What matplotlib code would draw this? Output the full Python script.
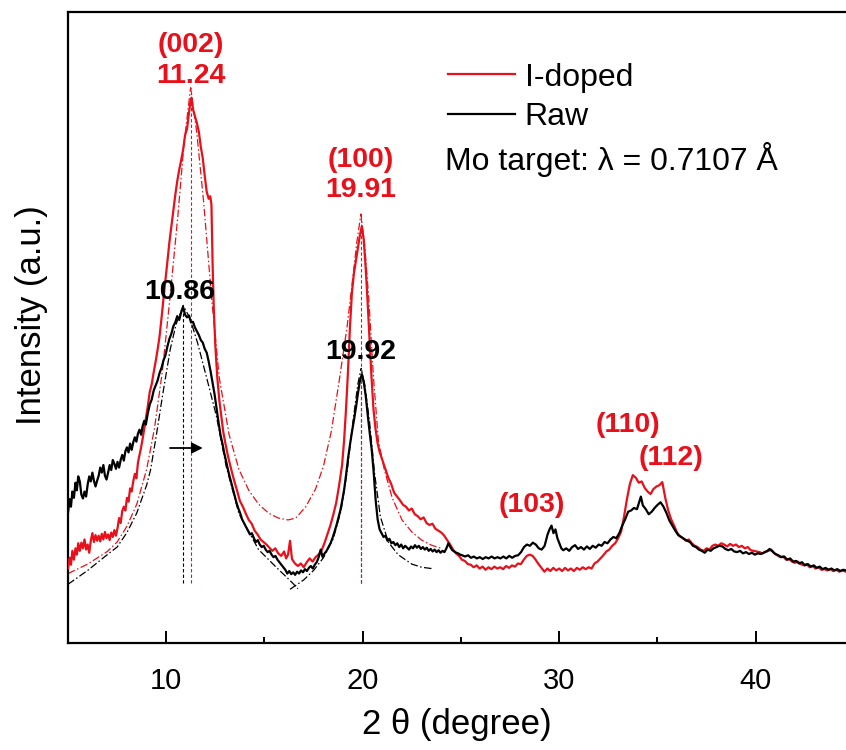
import numpy as np
import matplotlib
matplotlib.use('Agg')
import matplotlib.pyplot as plt

plt.rcParams['font.family'] = ['Liberation Sans', 'DejaVu Sans']

RED = '#e8101a'

# XRD scans, (2theta [deg], intensity [a.u.])
doped_scan = [
    (5.00, 11.8), (5.08, 13.5), (5.15, 12.4), (5.22, 14.6), (5.30, 13.2), (5.38, 15.0),
    (5.45, 14.0), (5.52, 15.8), (5.60, 14.6), (5.68, 15.9), (5.76, 15.0), (5.84, 16.4),
    (5.92, 14.8), (6.00, 15.6), (6.08, 14.3), (6.16, 16.2), (6.24, 17.4), (6.32, 16.0),
    (6.40, 17.1), (6.48, 16.2), (6.56, 17.0), (6.64, 16.1), (6.72, 17.3), (6.80, 16.4),
    (6.88, 17.6), (6.96, 16.6), (7.04, 17.2), (7.12, 16.3), (7.20, 17.5), (7.28, 16.8),
    (7.36, 17.9), (7.44, 17.0), (7.52, 18.2), (7.60, 19.8), (7.68, 19.0), (7.76, 20.9),
    (7.84, 21.6), (7.92, 21.0), (8.00, 23.0), (8.08, 22.4), (8.16, 24.5), (8.24, 24.0),
    (8.32, 25.6), (8.40, 26.8), (8.48, 26.1), (8.56, 28.6), (8.64, 29.8), (8.72, 31.0),
    (8.80, 32.4), (8.88, 34.0), (8.96, 35.5), (9.06, 37.5), (9.16, 39.8), (9.26, 41.0),
    (9.36, 42.9), (9.46, 44.6), (9.56, 46.5), (9.66, 48.6), (9.76, 51.5), (9.86, 54.6),
    (9.96, 57.5), (10.06, 60.5), (10.16, 63.5), (10.26, 66.0), (10.36, 68.6), (10.46, 71.0),
    (10.56, 73.2), (10.66, 75.0), (10.76, 76.5), (10.86, 78.2), (10.96, 80.5), (11.06, 81.5),
    (11.14, 83.6), (11.22, 85.5), (11.28, 86.4), (11.36, 84.6), (11.46, 83.5), (11.56, 82.4),
    (11.66, 81.0), (11.76, 78.6), (11.86, 76.8), (11.96, 74.0), (12.06, 71.5), (12.16, 70.4),
    (12.24, 70.8), (12.30, 69.5), (12.36, 60.0), (12.42, 53.0), (12.50, 47.0), (12.60, 42.0),
    (12.70, 38.5), (12.80, 36.0), (12.90, 33.5), (13.00, 31.8), (13.15, 29.5), (13.30, 27.6),
    (13.45, 25.8), (13.60, 24.2), (13.75, 22.5), (13.90, 21.6), (14.05, 20.5), (14.20, 19.5),
    (14.35, 18.9), (14.50, 17.8), (14.65, 17.2), (14.80, 16.4), (14.95, 16.0), (15.10, 15.6),
    (15.25, 15.1), (15.40, 14.6), (15.55, 15.0), (15.70, 14.2), (15.85, 13.8), (16.00, 14.5),
    (16.10, 13.4), (16.20, 14.0), (16.30, 16.2), (16.40, 13.3), (16.55, 12.6), (16.70, 12.2),
    (16.85, 12.6), (17.00, 12.0), (17.15, 12.8), (17.30, 13.4), (17.45, 12.9), (17.60, 13.6),
    (17.75, 14.0), (17.90, 14.6), (18.05, 15.8), (18.20, 17.2), (18.35, 18.6), (18.50, 20.3),
    (18.65, 22.2), (18.80, 25.0), (18.95, 28.2), (19.05, 32.0), (19.15, 37.0), (19.25, 43.0),
    (19.35, 50.0), (19.45, 55.5), (19.55, 58.5), (19.65, 60.5), (19.75, 62.5), (19.85, 64.5),
    (19.95, 66.0), (20.05, 64.0), (20.15, 59.5), (20.25, 54.0), (20.35, 48.0), (20.45, 42.0),
    (20.55, 37.0), (20.65, 34.0), (20.75, 31.8), (20.85, 30.4), (21.00, 29.0), (21.15, 27.6),
    (21.30, 26.2), (21.45, 25.2), (21.60, 23.8), (21.75, 23.2), (21.90, 22.6), (22.05, 21.9),
    (22.20, 21.6), (22.35, 21.0), (22.50, 21.3), (22.65, 20.4), (22.80, 20.1), (22.95, 19.6),
    (23.10, 19.9), (23.25, 19.0), (23.40, 18.7), (23.55, 18.9), (23.70, 18.1), (23.85, 17.8),
    (24.00, 17.5), (24.15, 17.0), (24.30, 16.3), (24.45, 15.6), (24.60, 14.8), (24.75, 14.2),
    (24.90, 13.8), (25.05, 13.2), (25.20, 13.0), (25.35, 12.5), (25.50, 12.4), (25.65, 12.0),
    (25.80, 12.3), (25.95, 11.8), (26.10, 12.1), (26.25, 11.6), (26.40, 12.0), (26.55, 11.7),
    (26.70, 12.1), (26.85, 11.8), (27.00, 12.0), (27.15, 11.7), (27.30, 12.2), (27.45, 11.9),
    (27.60, 12.3), (27.75, 12.1), (27.90, 12.6), (28.05, 12.5), (28.20, 13.2), (28.35, 13.8),
    (28.50, 14.0), (28.65, 13.8), (28.80, 13.2), (28.95, 12.5), (29.10, 11.9), (29.25, 11.3),
    (29.40, 11.8), (29.55, 11.4), (29.70, 11.9), (29.85, 11.5), (30.00, 11.8), (30.15, 11.4),
    (30.30, 11.9), (30.45, 11.5), (30.60, 11.8), (30.75, 11.4), (30.90, 11.9), (31.05, 11.6),
    (31.20, 12.0), (31.35, 11.7), (31.50, 12.0), (31.65, 11.8), (31.80, 12.6), (31.95, 12.9),
    (32.10, 13.4), (32.25, 13.9), (32.40, 14.5), (32.55, 14.8), (32.70, 15.4), (32.85, 15.8),
    (33.00, 16.6), (33.15, 17.6), (33.30, 20.0), (33.45, 22.8), (33.60, 25.2), (33.75, 26.6),
    (33.90, 26.2), (34.05, 25.4), (34.20, 25.6), (34.35, 24.6), (34.50, 24.0), (34.65, 23.6),
    (34.80, 24.4), (34.95, 24.8), (35.10, 25.0), (35.25, 25.5), (35.40, 23.0), (35.55, 21.0),
    (35.70, 19.6), (35.85, 18.6), (36.00, 17.5), (36.15, 16.9), (36.30, 16.6), (36.45, 16.2),
    (36.60, 16.4), (36.75, 15.8), (36.90, 15.4), (37.05, 15.2), (37.20, 14.8), (37.35, 14.6),
    (37.50, 15.0), (37.65, 14.8), (37.80, 15.4), (37.95, 15.6), (38.10, 15.4), (38.25, 15.8),
    (38.40, 15.6), (38.55, 15.3), (38.70, 15.7), (38.85, 15.4), (39.00, 15.6), (39.15, 15.2),
    (39.30, 15.4), (39.45, 15.0), (39.60, 15.2), (39.75, 14.7), (39.90, 14.6), (40.05, 14.5),
    (40.20, 14.4), (40.35, 14.2), (40.50, 14.5), (40.65, 14.6), (40.80, 14.8), (40.95, 14.2),
    (41.10, 13.9), (41.25, 13.6), (41.40, 13.7), (41.55, 13.2), (41.70, 13.3), (41.85, 12.9),
    (42.00, 12.7), (42.15, 12.9), (42.30, 12.5), (42.45, 12.3), (42.60, 12.5), (42.75, 12.0),
    (42.90, 12.2), (43.05, 11.8), (43.20, 12.0), (43.35, 11.6), (43.50, 11.7), (43.65, 11.5),
    (43.80, 11.7), (43.95, 11.4), (44.10, 11.6), (44.25, 11.3), (44.40, 11.5), (44.60, 11.3),
]

raw_scan = [
    (5.00, 20.6), (5.08, 22.8), (5.15, 21.6), (5.22, 24.0), (5.30, 23.0), (5.38, 25.4),
    (5.45, 24.2), (5.52, 26.4), (5.60, 25.6), (5.68, 23.5), (5.76, 22.9), (5.84, 24.0),
    (5.92, 23.2), (6.00, 25.1), (6.08, 26.4), (6.16, 25.6), (6.24, 27.0), (6.32, 25.7),
    (6.40, 24.8), (6.48, 25.7), (6.56, 26.5), (6.64, 27.8), (6.72, 27.0), (6.80, 28.2),
    (6.88, 26.5), (6.96, 25.9), (7.04, 27.0), (7.12, 28.2), (7.20, 27.4), (7.28, 29.0),
    (7.36, 28.4), (7.44, 27.6), (7.52, 28.7), (7.60, 27.8), (7.68, 29.0), (7.76, 29.8),
    (7.84, 28.9), (7.92, 30.4), (8.00, 31.0), (8.08, 30.2), (8.16, 31.6), (8.24, 30.6),
    (8.32, 31.8), (8.40, 32.6), (8.48, 31.9), (8.56, 33.2), (8.64, 33.8), (8.72, 33.0),
    (8.80, 34.4), (8.88, 35.2), (8.96, 34.6), (9.06, 36.4), (9.16, 37.8), (9.26, 38.6),
    (9.36, 40.0), (9.46, 40.8), (9.56, 41.6), (9.66, 42.8), (9.76, 43.6), (9.86, 44.8),
    (9.96, 45.6), (10.06, 47.0), (10.16, 48.2), (10.26, 49.0), (10.36, 50.2), (10.46, 50.8),
    (10.56, 51.8), (10.66, 51.2), (10.76, 52.4), (10.86, 53.2), (10.96, 52.0), (11.06, 51.6),
    (11.16, 51.9), (11.26, 50.8), (11.36, 50.9), (11.46, 50.0), (11.56, 49.4), (11.66, 48.8),
    (11.76, 48.0), (11.86, 47.6), (11.96, 46.6), (12.06, 46.0), (12.16, 44.6), (12.26, 43.0),
    (12.36, 41.2), (12.46, 39.4), (12.56, 37.2), (12.66, 35.0), (12.76, 33.0), (12.86, 31.6),
    (12.96, 30.0), (13.06, 28.6), (13.16, 27.2), (13.26, 26.0), (13.36, 24.8), (13.46, 23.6),
    (13.56, 22.4), (13.66, 21.4), (13.76, 20.6), (13.86, 19.6), (13.96, 19.0), (14.06, 18.4),
    (14.16, 17.8), (14.26, 17.2), (14.36, 17.4), (14.46, 16.6), (14.56, 16.0), (14.66, 16.3),
    (14.76, 15.6), (14.86, 15.2), (14.96, 15.4), (15.06, 14.8), (15.16, 14.4), (15.26, 14.6),
    (15.36, 14.0), (15.46, 13.6), (15.56, 13.8), (15.66, 13.2), (15.76, 12.8), (15.86, 12.4),
    (15.96, 12.0), (16.06, 11.6), (16.16, 11.0), (16.26, 11.4), (16.36, 10.9), (16.46, 11.2),
    (16.56, 10.8), (16.66, 11.3), (16.76, 11.0), (16.86, 11.5), (16.96, 11.2), (17.06, 11.7),
    (17.16, 11.4), (17.26, 11.9), (17.36, 12.2), (17.46, 11.8), (17.56, 12.4), (17.66, 12.8),
    (17.76, 13.6), (17.86, 14.8), (17.96, 13.6), (18.06, 14.2), (18.16, 14.6), (18.26, 15.2),
    (18.36, 15.8), (18.46, 16.6), (18.56, 17.6), (18.66, 18.6), (18.76, 19.8), (18.86, 21.0),
    (18.96, 22.6), (19.06, 24.4), (19.16, 26.8), (19.26, 29.4), (19.36, 31.6), (19.46, 33.6),
    (19.56, 35.4), (19.66, 37.4), (19.76, 39.6), (19.86, 41.6), (19.96, 42.6), (20.06, 41.2),
    (20.16, 39.0), (20.26, 36.0), (20.36, 33.2), (20.46, 30.6), (20.56, 27.0), (20.66, 22.6),
    (20.76, 19.6), (20.86, 18.0), (20.96, 17.4), (21.06, 16.8), (21.16, 17.0), (21.26, 16.2),
    (21.36, 16.5), (21.46, 15.8), (21.56, 16.0), (21.66, 15.5), (21.76, 15.8), (21.86, 15.2),
    (21.96, 15.6), (22.06, 15.0), (22.16, 15.4), (22.26, 15.1), (22.36, 14.8), (22.46, 15.3),
    (22.56, 15.0), (22.66, 15.5), (22.76, 15.1), (22.86, 15.4), (22.96, 14.9), (23.06, 15.2),
    (23.16, 14.8), (23.26, 15.1), (23.36, 14.6), (23.46, 14.9), (23.56, 14.5), (23.66, 14.8),
    (23.76, 14.4), (23.86, 14.7), (23.96, 14.3), (24.06, 14.6), (24.16, 14.4), (24.26, 15.0),
    (24.36, 15.8), (24.46, 15.2), (24.56, 14.7), (24.66, 14.5), (24.76, 14.3), (24.86, 14.2),
    (24.96, 14.0), (25.06, 13.9), (25.21, 13.7), (25.36, 13.9), (25.51, 13.5), (25.66, 13.7),
    (25.81, 13.4), (25.96, 13.6), (26.11, 13.3), (26.26, 13.6), (26.41, 13.4), (26.56, 13.7),
    (26.71, 13.4), (26.86, 13.6), (27.01, 13.4), (27.16, 13.7), (27.31, 13.4), (27.46, 13.8),
    (27.61, 13.5), (27.76, 13.8), (27.91, 13.9), (28.06, 14.4), (28.21, 15.2), (28.36, 15.6),
    (28.51, 15.4), (28.66, 15.9), (28.81, 15.6), (28.96, 15.0), (29.11, 14.8), (29.26, 15.4),
    (29.41, 17.2), (29.51, 18.0), (29.61, 18.6), (29.71, 17.4), (29.81, 18.0), (29.91, 16.6),
    (30.01, 15.8), (30.11, 15.0), (30.21, 14.7), (30.36, 15.0), (30.51, 14.6), (30.66, 15.2),
    (30.81, 15.5), (30.96, 14.9), (31.11, 15.2), (31.26, 14.8), (31.41, 15.3), (31.56, 14.9),
    (31.71, 15.4), (31.86, 15.1), (32.01, 15.6), (32.16, 15.4), (32.31, 16.0), (32.46, 15.8),
    (32.61, 16.4), (32.76, 16.8), (32.91, 16.6), (33.06, 17.4), (33.21, 18.6), (33.36, 19.6),
    (33.51, 20.8), (33.66, 21.0), (33.81, 21.4), (33.96, 21.2), (34.06, 22.2), (34.16, 23.2),
    (34.26, 21.8), (34.41, 21.2), (34.56, 20.4), (34.71, 20.8), (34.86, 21.4), (35.01, 21.9),
    (35.16, 22.3), (35.31, 21.6), (35.46, 20.6), (35.61, 19.4), (35.76, 18.6), (35.91, 17.8),
    (36.06, 17.1), (36.21, 16.8), (36.36, 16.5), (36.51, 16.2), (36.66, 16.0), (36.81, 15.4),
    (36.96, 15.2), (37.11, 14.8), (37.26, 14.6), (37.41, 14.3), (37.56, 14.8), (37.71, 14.6),
    (37.86, 15.0), (38.01, 15.2), (38.16, 15.4), (38.31, 15.3), (38.46, 14.9), (38.61, 14.7),
    (38.76, 14.9), (38.91, 14.5), (39.06, 14.4), (39.21, 14.6), (39.36, 14.2), (39.51, 14.4),
    (39.66, 14.1), (39.81, 14.3), (39.96, 14.0), (40.11, 14.2), (40.26, 14.1), (40.41, 14.3),
    (40.56, 14.5), (40.71, 14.9), (40.86, 14.5), (41.01, 14.1), (41.16, 13.9), (41.31, 13.6),
    (41.46, 13.7), (41.61, 13.2), (41.76, 13.4), (41.91, 12.9), (42.06, 13.0), (42.21, 12.6),
    (42.36, 12.8), (42.51, 12.3), (42.66, 12.5), (42.81, 12.1), (42.96, 12.3), (43.11, 11.9),
    (43.26, 12.1), (43.41, 11.7), (43.56, 11.9), (43.71, 11.6), (43.86, 11.8), (44.01, 11.5),
    (44.16, 11.7), (44.31, 11.4), (44.46, 11.6), (44.60, 11.5),
]

# peak fits (dash-dot)
doped_fit = [
    (5.0, 11.0), (6.0, 12.5), (7.0, 14.5), (7.5, 16.0), (8.0, 18.5), (8.5, 22.0),
    (9.0, 27.5), (9.4, 34.0), (9.8, 43.0), (10.2, 55.0), (10.6, 68.0), (10.9, 79.0),
    (11.24, 88.0), (11.55, 81.0), (11.9, 70.0), (12.3, 55.0), (12.7, 42.0), (13.2, 33.0),
    (13.7, 27.5), (14.2, 24.2), (14.7, 22.0), (15.2, 20.6), (15.7, 19.8), (16.2, 19.5),
    (16.6, 19.8), (17.1, 21.6), (17.6, 24.4), (18.0, 28.0), (18.4, 33.5), (18.8, 41.5),
    (19.2, 50.0), (19.5, 58.0), (19.7, 63.5), (19.91, 68.0), (20.1, 63.0), (20.3, 55.0),
    (20.55, 42.0), (20.8, 32.0), (21.1, 27.5), (21.5, 23.0), (22.0, 19.5), (22.5, 17.6),
    (23.0, 16.3), (23.5, 15.5), (24.0, 15.0),
]
raw_fit_002 = [
    (5.0, 9.3), (6.0, 11.5), (7.0, 14.0), (7.5, 15.2), (8.0, 17.5), (8.5, 20.6),
    (9.0, 25.0), (9.2, 27.4), (9.5, 33.0), (9.8, 39.0), (10.2, 46.5), (10.5, 50.5),
    (10.86, 53.5), (11.2, 51.5), (11.6, 47.5), (12.1, 41.5), (12.55, 36.0), (13.05, 28.0),
    (13.7, 20.5), (14.7, 14.8), (15.6, 12.0), (16.4, 9.6), (16.7, 8.6),
]
raw_fit_100 = [
    (16.3, 8.5), (17.0, 10.0), (17.5, 11.5), (18.0, 13.5), (18.5, 16.5), (18.9, 21.0),
    (19.2, 27.0), (19.5, 35.0), (19.75, 41.0), (19.92, 43.5), (20.1, 41.0), (20.35, 35.0),
    (20.6, 27.0), (20.9, 20.0), (21.3, 16.0), (21.8, 14.0), (22.5, 12.5), (23.0, 12.0),
    (23.5, 11.8),
]

# fitted peak centres and tops of the guide lines
raw_centres = [10.86, 19.92]
raw_tops = [53.5, 43.5]
doped_centres = [11.24, 19.91]
doped_tops = [88.0, 68.0]
guide_base = 9.5

# reflection labels: (text, 2theta, intensity, colour)
hkl_labels = [
    ('(002)', 11.24, 94.8, RED), ('11.24', 11.24, 89.9, RED),
    ('(100)', 19.91, 76.5, RED), ('19.91', 19.91, 71.8, RED),
    ('10.86', 10.7, 55.6, 'black'), ('19.92', 19.92, 46.1, 'black'),
    ('(103)', 28.6, 21.9, RED), ('(110)', 33.5, 34.5, RED), ('(112)', 35.7, 29.3, RED),
]


def xy(points):
    arr = np.array(points)
    return arr[:, 0], arr[:, 1]


fig = plt.figure(figsize=(8.46, 7.5), dpi=100)
ax = fig.add_axes([0.0804, 0.1427, 0.9196, 0.8413])

x, y = xy(doped_scan)
ax.plot(x, y, color=RED, lw=1.6, label='I-doped', zorder=3)
x, y = xy(raw_scan)
ax.plot(x, y, color='black', lw=1.6, label='Raw', zorder=4)

dashdot = (0, (6, 2, 1.2, 2))
x, y = xy(doped_fit)
ax.plot(x, y, color=RED, lw=0.9, ls=dashdot, zorder=2)
for fit in (raw_fit_002, raw_fit_100):
    x, y = xy(fit)
    ax.plot(x, y, color='black', lw=0.9, ls=dashdot, zorder=2)

for c, top in zip(raw_centres, raw_tops):
    ax.plot([c, c], [guide_base, top], color='black', lw=0.8, ls=(0, (3, 2)), zorder=2)
for c, top in zip(doped_centres, doped_tops):
    ax.plot([c, c], [guide_base, top], color=RED, lw=0.8, ls=(0, (3, 2)), zorder=2)

for text, xt, yt, col in hkl_labels:
    ax.text(xt, yt, text, color=col, fontsize=20.5, fontweight='bold',
            ha='center', va='center')

# peak shift arrow
ax.annotate('', xy=(12.0, 30.9), xytext=(10.05, 30.9),
            arrowprops=dict(arrowstyle='-|>', color='black', lw=1.3, mutation_scale=16))

leg = ax.legend(loc='upper left', bbox_to_anchor=(0.472, 0.94), frameon=False,
                fontsize=23, handlelength=2.1, handletextpad=0.3, labelspacing=0.3,
                borderaxespad=0)
ax.text(0.484, 0.7655, 'Mo target: λ = 0.7107 Å', transform=ax.transAxes,
        fontsize=23, ha='left', va='center')

ax.set_xlim(5, 44.6)
ax.set_ylim(0, 100)
ax.set_xticks([10, 20, 30, 40])
ax.set_xticks([15, 25, 35], minor=True)
ax.set_yticks([])
ax.tick_params(axis='x', which='major', direction='in', length=8.5, width=1.4,
               labelsize=21, pad=17)
ax.tick_params(axis='x', which='minor', direction='in', length=4.5, width=1.4)
ax.spines['right'].set_visible(False)
for side in ('left', 'top', 'bottom'):
    ax.spines[side].set_linewidth(1.6)

ax.set_xlabel('2 θ (degree)', fontsize=25, labelpad=10)
ax.set_ylabel('Intensity (a.u.)', fontsize=25)
ax.yaxis.set_label_coords(-0.026, 0.52)

fig.savefig('out.png', dpi=100)
